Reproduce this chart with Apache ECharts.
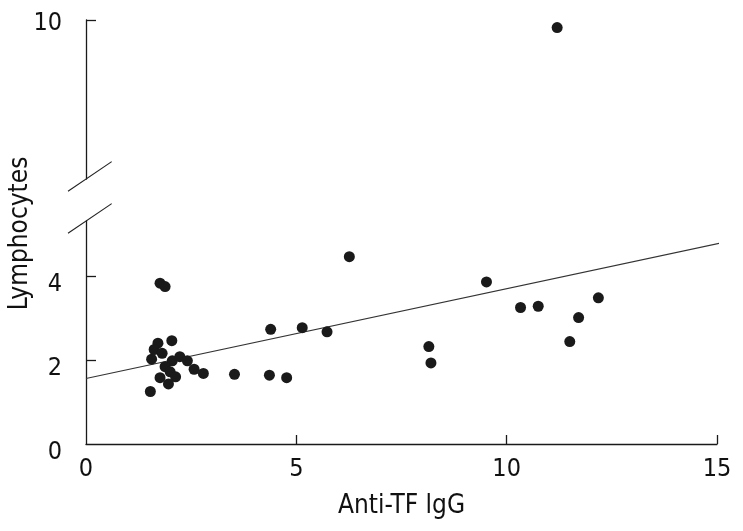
<!DOCTYPE html>
<html>
<head>
<meta charset="utf-8">
<script src="https://cdn.jsdelivr.net/npm/echarts@6/dist/echarts.min.js"></script>
<style>
html,body{margin:0;padding:0;background:#fff;}
#chart{width:743px;height:531px;}
</style>
</head>
<body>
<div id="chart"></div>
<script>
// Data (Anti-TF IgG, Lymphocytes)
const xValues = [1.76, 1.88, 6.26, 1.71, 2.04, 1.62, 1.81, 1.56, 2.05, 2.23, 2.41, 1.88, 2.00, 2.57, 2.79, 1.76, 2.13, 1.96, 1.53, 3.53, 4.36, 4.77, 4.39, 5.14, 5.73, 9.52, 10.33, 10.75, 12.18, 11.71, 11.50, 8.15, 8.20];
const yValues = [3.83, 3.75, 4.46, 2.40, 2.46, 2.25, 2.16, 2.02, 1.98, 2.08, 1.98, 1.84, 1.72, 1.78, 1.68, 1.58, 1.60, 1.43, 1.25, 1.66, 1.64, 1.58, 2.73, 2.77, 2.67, 3.86, 3.25, 3.28, 3.48, 3.01, 2.44, 2.32, 1.93];
const outlierX = [11.20];
const outlierY = [9.82];
const fitLineX = [0, 15.11];
const fitLineY = [1.56, 4.79];
const xTicks = [0, 5, 10, 15];
const yTicksLower = [0, 2, 4];
const yTicksUpper = [10];
const xName = 'Anti-TF lgG';
const yName = 'Lymphocytes';

const FONT = "'DejaVu Sans Condensed', 'DejaVu Sans', sans-serif";
const lowerMax = 5.31, upperMin = 6.21, upperMax = 10;

const chart = echarts.init(document.getElementById('chart'), null, {renderer: 'canvas'});
const axisLineStyle = {color: '#1a1a1a', width: 1.3};
const richLower = {v: {fontFamily: FONT, fontSize: 25, color: '#111', padding: [17, 0, 0, 0]}};
const richUpper = {v: {fontFamily: FONT, fontSize: 25, color: '#111', padding: [6, 0, 0, 0]}};

const option = {
  animation: false,
  backgroundColor: '#fff',
  grid: [
    {left: 86, right: 26, top: 221, bottom: 87, outerBoundsMode: 'none', containLabel: false},
    {left: 86, right: 26, top: 20, bottom: 352, outerBoundsMode: 'none', containLabel: false},
    {left: 86, right: 26, top: 23, bottom: 87, outerBoundsMode: 'none', containLabel: false}
  ],
  xAxis: [
    {
      gridIndex: 0, type: 'value', min: 0, max: 15, interval: 5,
      splitLine: {show: false},
      axisLine: {lineStyle: axisLineStyle},
      axisTick: {inside: true, length: 9, lineStyle: axisLineStyle, customValues: xTicks.slice(1)},
      axisLabel: {customValues: xTicks, color: '#111', fontFamily: FONT, fontSize: 25, margin: 13},
      name: xName, nameLocation: 'middle', nameGap: 49,
      nameTextStyle: {color: '#111', fontFamily: FONT, fontSize: 26}
    },
    {gridIndex: 1, type: 'value', min: 0, max: 15, show: false},
    {gridIndex: 2, type: 'value', min: 0, max: 15, show: false}
  ],
  yAxis: [
    {
      gridIndex: 0, type: 'value', min: 0, max: lowerMax,
      splitLine: {show: false},
      axisLine: {lineStyle: axisLineStyle},
      axisTick: {inside: true, length: 10, lineStyle: axisLineStyle, customValues: [2, 4]},
      axisLabel: {customValues: yTicksLower, margin: 24, formatter: v => '{v|' + v + '}', rich: richLower}
    },
    {
      gridIndex: 1, type: 'value', min: upperMin, max: upperMax,
      splitLine: {show: false},
      axisLine: {lineStyle: axisLineStyle},
      axisTick: {inside: true, length: 10, lineStyle: axisLineStyle, customValues: yTicksUpper},
      axisLabel: {customValues: yTicksUpper, margin: 24, formatter: v => '{v|' + v + '}', rich: richUpper}
    },
    {
      gridIndex: 2, type: 'value', min: 0, max: 10,
      axisLine: {show: false}, axisTick: {show: false}, axisLabel: {show: false}, splitLine: {show: false},
      name: yName, nameLocation: 'middle', nameGap: 53,
      nameTextStyle: {color: '#111', fontFamily: FONT, fontSize: 26}
    }
  ],
  series: [
    {
      type: 'line', xAxisIndex: 0, yAxisIndex: 0,
      data: fitLineX.map((x, i) => [x, fitLineY[i]]),
      showSymbol: false, symbol: 'none', clip: false,
      lineStyle: {color: '#333', width: 1.1}, z: 1
    },
    {
      type: 'scatter', xAxisIndex: 0, yAxisIndex: 0,
      data: xValues.map((x, i) => [x, yValues[i]]),
      symbolSize: 11, itemStyle: {color: '#1a1a1a', opacity: 1}, z: 3
    },
    {
      type: 'scatter', xAxisIndex: 1, yAxisIndex: 1,
      data: outlierX.map((x, i) => [x, outlierY[i]]),
      symbolSize: 11, itemStyle: {color: '#1a1a1a', opacity: 1}, z: 3
    }
  ]
};
chart.setOption(option);

// axis-break slashes, positioned from the axes
const axisX = chart.convertToPixel({xAxisIndex: 0}, 0);
const lowTop = chart.convertToPixel({yAxisIndex: 0}, lowerMax);
const upBottom = chart.convertToPixel({yAxisIndex: 1}, upperMin);
function slash(cy) {
  return {type: 'line', shape: {x1: axisX - 18, y1: cy + 12.2, x2: axisX + 25.7, y2: cy - 17.4},
          style: {stroke: '#222', lineWidth: 1.1}, z: 10};
}
chart.setOption({graphic: [slash(lowTop), slash(upBottom)]});
</script>
</body>
</html>
